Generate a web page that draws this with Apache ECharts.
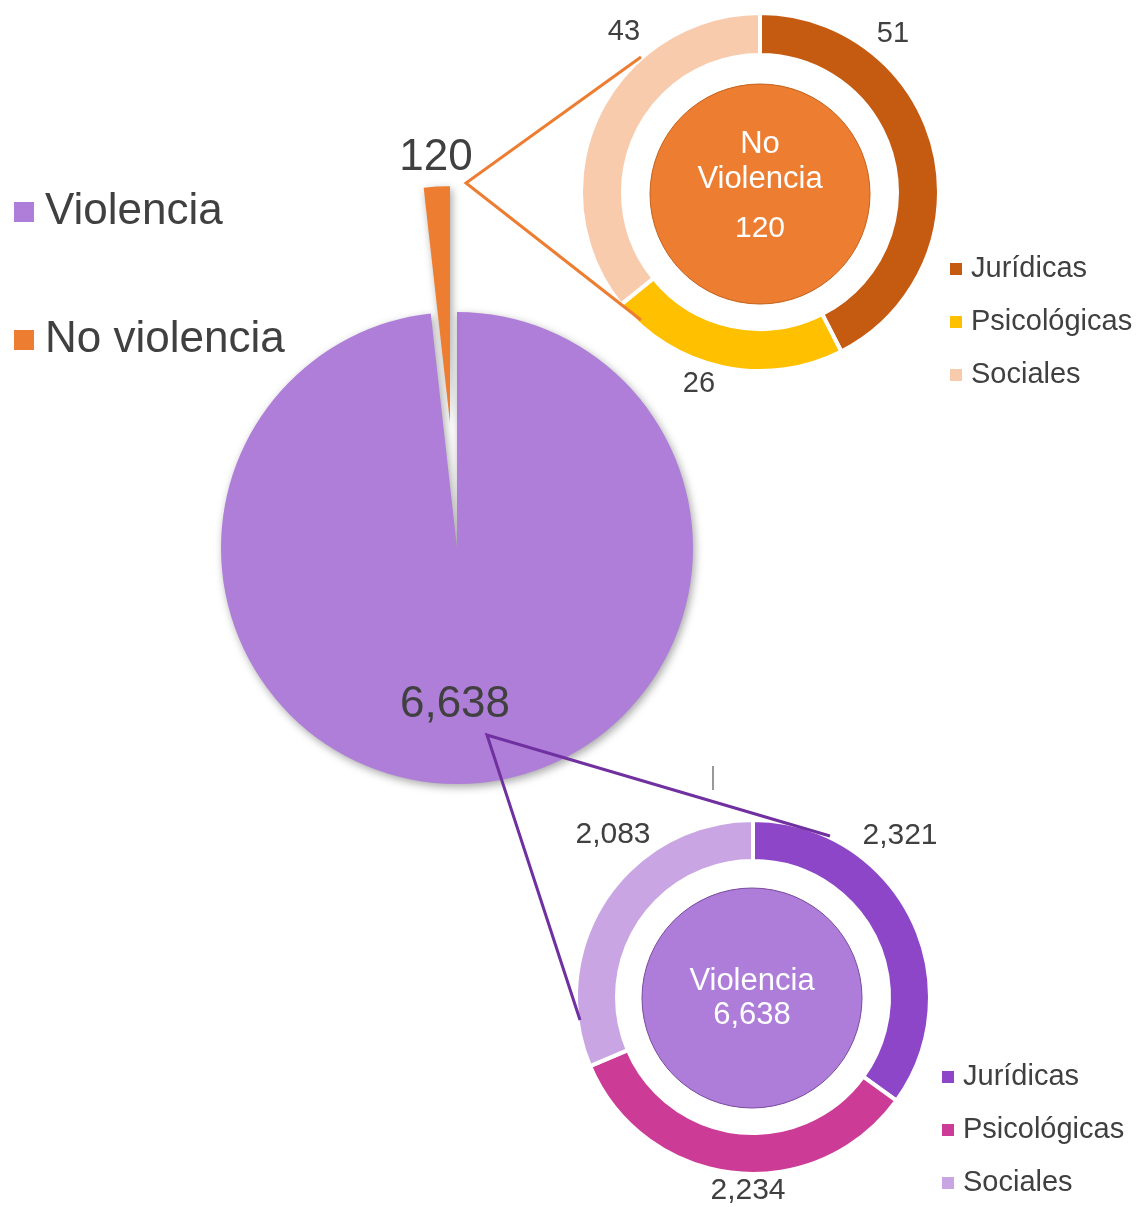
<!DOCTYPE html>
<html>
<head>
<meta charset="utf-8">
<script src="https://cdn.jsdelivr.net/npm/echarts@6/dist/echarts.min.js"></script>
<style>
html,body{margin:0;padding:0;background:#fff;}
#chart{width:1142px;height:1207px;}
</style>
</head>
<body>
<div id="chart"></div>
<script>
// ---- data ----
const mainCategories = ['Violencia', 'No violencia'];
const mainValues = [6638, 120];
const subCategories = ['Jurídicas', 'Psicológicas', 'Sociales'];
const noViolenciaValues = [51, 26, 43];
const violenciaValues = [2321, 2234, 2083];

// ---- styles / layout ----
const FONT = 'Liberation Sans, Arial, sans-serif';
const TXT = '#404040';
const mainColors = ['#AE7ED8', '#ED7D31'];
const orangeColors = ['#C55A11', '#FFC000', '#F8CBAD'];
const purpleColors = ['#8E46C8', '#CC3C97', '#C9A6E3'];
const CLEAR = 'rgba(0,0,0,0)';
const mainCenter = [457, 548];
const mainRadius = 236;
const explode = 126;
// exploded slice centre: pushed out along the bisector of the small slice
const total = mainValues[0] + mainValues[1];
const bisectorDeg = 360 - (mainValues[1] / total) * 180; // clockwise from 12 o'clock
const bis = bisectorDeg * Math.PI / 180;
const explodedCenter = [mainCenter[0] + explode * Math.sin(bis), mainCenter[1] - explode * Math.cos(bis)];

const shadow = { shadowBlur: 8, shadowColor: 'rgba(0,0,0,0.35)', shadowOffsetX: 2, shadowOffsetY: 3 };

// label placement (layout only)
const labelPos = {
  main: [[455, 705], null],
  explode: [null, [436, 158]],
  top: [[893, 34], [699, 384], [624, 32]],
  bottom: [[900, 836], [748, 1191], [613, 835]]
};
function layoutFor(key) {
  return function (p) {
    const pos = labelPos[key][p.dataIndex];
    if (!pos) return {};
    return { x: pos[0], y: pos[1], align: 'center', verticalAlign: 'middle' };
  };
}
const fmt = v => v.toLocaleString('en-US');

const chart = echarts.init(document.getElementById('chart'), null, { renderer: 'canvas' });

const option = {
  backgroundColor: '#ffffff',
  animation: false,
  textStyle: { fontFamily: FONT },
  legend: [
    {
      data: mainCategories,
      orient: 'vertical', left: 14, top: 190, padding: 0,
      itemWidth: 20, itemHeight: 20, itemGap: 84,
      icon: 'rect', selectedMode: false,
      textStyle: { fontSize: 44, lineHeight: 44, color: TXT, fontFamily: FONT, padding: [0, 0, 0, 6] }
    },
    {
      data: subCategories,
      orient: 'vertical', left: 948, top: 254, padding: 0,
      itemWidth: 14, itemHeight: 14, itemGap: 23,
      icon: 'rect', selectedMode: false,
      textStyle: { fontSize: 29, lineHeight: 30, color: TXT, fontFamily: FONT, padding: [0, 0, 0, 3] }
    },
    {
      data: subCategories.map(n => n + ' '),
      formatter: n => n.trim(),
      orient: 'vertical', left: 940, top: 1062, padding: 0,
      itemWidth: 14, itemHeight: 14, itemGap: 23,
      icon: 'rect', selectedMode: false,
      textStyle: { fontSize: 29, lineHeight: 30, color: TXT, fontFamily: FONT, padding: [0, 0, 0, 3] }
    }
  ],
  graphic: [
    { type: 'polyline', z: 100, shape: { points: [[641, 57], [466, 183], [641, 320]] },
      style: { stroke: '#ED7D31', lineWidth: 3, fill: null } },
    { type: 'polyline', z: 100, shape: { points: [[830, 836], [487, 735], [580, 1020]] },
      style: { stroke: '#7030A0', lineWidth: 3, fill: null } },
    { type: 'line', z: 100, shape: { x1: 713, y1: 766, x2: 713, y2: 790 },
      style: { stroke: '#333333', lineWidth: 1 } }
  ],
  series: [
    {
      name: 'main', type: 'pie',
      center: mainCenter, radius: [0, mainRadius],
      startAngle: 90, clockwise: true,
      avoidLabelOverlap: false,
      emphasis: { disabled: true },
      label: {
        show: true, position: 'inside', fontSize: 44, color: TXT, fontFamily: FONT,
        formatter: p => fmt(p.value)
      },
      labelLine: { show: false },
      labelLayout: layoutFor('main'),
      data: [
        { name: mainCategories[0], value: mainValues[0], itemStyle: Object.assign({ color: mainColors[0] }, shadow) },
        { name: 'hueco', value: mainValues[1], itemStyle: { color: CLEAR }, label: { show: false } }
      ]
    },
    {
      name: 'exploded', type: 'pie',
      center: explodedCenter, radius: [0, mainRadius],
      startAngle: 90, clockwise: true,
      avoidLabelOverlap: false,
      emphasis: { disabled: true },
      label: {
        show: true, position: 'inside', fontSize: 44, color: TXT, fontFamily: FONT,
        formatter: p => fmt(p.value)
      },
      labelLine: { show: false },
      labelLayout: layoutFor('explode'),
      data: [
        { name: 'resto', value: mainValues[0], itemStyle: { color: CLEAR }, label: { show: false } },
        { name: mainCategories[1], value: mainValues[1], itemStyle: Object.assign({ color: mainColors[1] }, shadow) }
      ]
    },
    {
      name: 'noViolenciaRing', type: 'pie',
      center: [760, 192], radius: [137, 179],
      startAngle: 90, clockwise: true,
      avoidLabelOverlap: false,
      emphasis: { disabled: true },
      itemStyle: { borderColor: '#ffffff', borderWidth: 4 },
      label: { show: true, position: 'outside', fontSize: 29, color: TXT, fontFamily: FONT, formatter: p => fmt(p.value) },
      labelLine: { show: false },
      labelLayout: layoutFor('top'),
      data: subCategories.map((n, i) => ({ name: n, value: noViolenciaValues[i], itemStyle: { color: orangeColors[i] } }))
    },
    {
      name: 'noViolenciaCenter', type: 'pie',
      center: [760, 194], radius: [0, 110],
      emphasis: { disabled: true },
      itemStyle: { color: '#ED7D31', borderColor: '#C4621C', borderWidth: 1 },
      label: {
        show: true, position: 'center',
        formatter: p => '{a|No}\n{a|Violencia}\n{b|' + fmt(p.value) + '}',
        rich: {
          a: { fontSize: 31, lineHeight: 35, color: '#ffffff', fontFamily: FONT },
          b: { fontSize: 30, lineHeight: 65, color: '#ffffff', fontFamily: FONT }
        }
      },
      labelLine: { show: false },
      data: [{ name: 'centro no violencia', value: mainValues[1] }]
    },
    {
      name: 'violenciaRing', type: 'pie',
      center: [753, 997], radius: [136, 177],
      startAngle: 90, clockwise: true,
      avoidLabelOverlap: false,
      emphasis: { disabled: true },
      itemStyle: { borderColor: '#ffffff', borderWidth: 4 },
      label: { show: true, position: 'outside', fontSize: 30, color: TXT, fontFamily: FONT, formatter: p => fmt(p.value) },
      labelLine: { show: false },
      labelLayout: layoutFor('bottom'),
      data: subCategories.map((n, i) => ({ name: n + ' ', value: violenciaValues[i], itemStyle: { color: purpleColors[i] } }))
    },
    {
      name: 'violenciaCenter', type: 'pie',
      center: [752, 998], radius: [0, 110],
      emphasis: { disabled: true },
      itemStyle: { color: '#AE7DD9', borderColor: '#7B4A9E', borderWidth: 1 },
      label: {
        show: true, position: 'center',
        formatter: p => '{a|Violencia}\n{a|' + fmt(p.value) + '}',
        rich: { a: { fontSize: 31, lineHeight: 34, color: '#ffffff', fontFamily: FONT } }
      },
      labelLine: { show: false },
      data: [{ name: 'centro violencia', value: mainValues[0] }]
    }
  ]
};
chart.setOption(option);
</script>
</body>
</html>
